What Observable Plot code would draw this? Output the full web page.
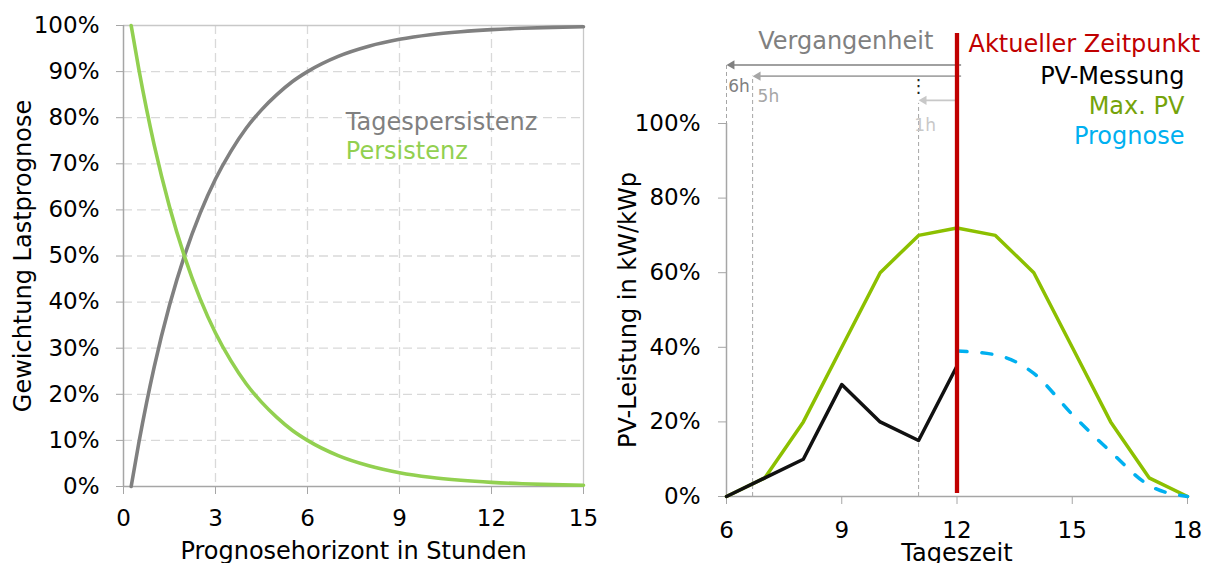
<!DOCTYPE html>
<html><head><meta charset="utf-8">
<script src="https://cdn.jsdelivr.net/npm/d3@7"></script>
<script src="https://cdn.jsdelivr.net/npm/@observablehq/plot@0.6"></script>
<style>
html,body{margin:0;padding:0;background:#fff;}
#wrap{position:relative;width:1210px;height:563px;overflow:hidden;font-family:"DejaVu Sans";}
#left,#right{position:absolute;top:0;}
#left{left:0;} #right{left:605px;}
</style></head><body>
<div id="wrap"><div id="left"></div><div id="right"></div></div>
<script>
// ---------- Left panel data ----------
const horizon = [0.25,0.5,0.75,1,1.5,2,2.5,3,3.5,4,4.5,5,5.5,6,7,8,9,10,11,12,13,14,15];
const persistenz = [1.000,0.905,0.819,0.741,0.607,0.497,0.407,0.333,0.273,0.223,0.183,0.150,0.122,0.100,0.067,0.045,0.030,0.020,0.0135,0.009,0.006,0.004,0.0027];
const tagespersistenz = [0,0.095,0.181,0.259,0.393,0.503,0.593,0.667,0.727,0.777,0.817,0.850,0.878,0.900,0.933,0.955,0.970,0.980,0.9865,0.991,0.994,0.996,0.9973];
const leftXTicks = [0,3,6,9,12,15];
const leftYTicks = [0,0.1,0.2,0.3,0.4,0.5,0.6,0.7,0.8,0.9,1];
const leftGridX = [3,6,9,12];
const leftGridY = [0.1,0.2,0.3,0.4,0.5,0.6,0.7,0.8,0.9];

// ---------- Right panel data ----------
const hours = [6,7,8,9,10,11,12,13,14,15,16,17,18];
const maxPV = [0,0.05,0.20,0.40,0.60,0.70,0.72,0.70,0.60,0.40,0.20,0.05,0];
const messHours = [6,7,8,9,10,11,12];
const messung = [0,0.05,0.10,0.30,0.20,0.15,0.35];
const progHours = [12,13,14,15,16,17,18];
const prognose = [0.39,0.38,0.33,0.22,0.12,0.03,0];
const rightXTicks = [6,9,12,15,18];
const rightYTicks = [0,0.2,0.4,0.6,0.8,1];

const FONT = "DejaVu Sans";
const FS = 24;
const pct = d => Math.round(d*100) + "%";
const AX = "#a6a6a6";

const leftRows = (ys) => horizon.map((h,i) => ({h, v: ys[i]}));

const left = Plot.plot({
  width: 605, height: 563,
  marginLeft: 123, marginRight: 22, marginTop: 25, marginBottom: 77,
  style: {fontFamily: FONT, background: "white", overflow: "visible"},
  x: {domain: [0, 15]},
  y: {domain: [0, 1]},
  marks: [
    Plot.gridX(leftGridX, {stroke: "#d9d9d9", strokeOpacity: 1, strokeWidth: 1.3, strokeDasharray: "9,5"}),
    Plot.gridY(leftGridY, {stroke: "#d9d9d9", strokeOpacity: 1, strokeWidth: 1.3, strokeDasharray: "9,5"}),
    Plot.ruleY([1], {stroke: "#c8c8c8", strokeWidth: 1.3}),
    Plot.ruleX([15], {stroke: "#c8c8c8", strokeWidth: 1.3}),
    Plot.ruleX([0], {stroke: AX, strokeWidth: 1.5}),
    Plot.ruleY([0], {stroke: AX, strokeWidth: 1.5}),
    Plot.axisY(leftYTicks, {tickFormat: pct, tickSize: 7, tickPadding: 17, fontSize: 23, stroke: AX, label: null}),
    Plot.axisX(leftXTicks, {tickSize: 8, tickPadding: 15, fontSize: 23, stroke: AX, label: null}),
    Plot.line(leftRows(tagespersistenz), {x: "h", y: "v", stroke: "#808080", strokeWidth: 3.6, curve: "monotone-x"}),
    Plot.line(leftRows(persistenz), {x: "h", y: "v", stroke: "#92d050", strokeWidth: 3.6, curve: "monotone-x"}),
    Plot.text(["Tagespersistenz"], {x: 7.25, y: 0.773, text: d => d, textAnchor: "start", lineAnchor: "bottom", fill: "#808080", fontSize: FS}),
    Plot.text(["Persistenz"], {x: 7.25, y: 0.710, text: d => d, textAnchor: "start", lineAnchor: "bottom", fill: "#92d050", fontSize: FS}),
    Plot.text(["Gewichtung Lastprognose"], {frameAnchor: "left", text: d => d, rotate: -90, dx: -100, textAnchor: "middle", lineAnchor: "middle", fontSize: FS, fill: "black"}),
    Plot.text(["Prognosehorizont in Stunden"], {frameAnchor: "bottom", text: d => d, dy: 72, textAnchor: "middle", lineAnchor: "bottom", fontSize: FS, fill: "black"})
  ]
});
document.getElementById("left").appendChild(left);

const rows = (xs, ys) => xs.map((x,i) => ({x, v: ys[i]}));

const right = Plot.plot({
  width: 605, height: 563,
  marginLeft: 121, marginRight: 23, marginTop: 123, marginBottom: 67,
  style: {fontFamily: FONT, background: "white", overflow: "visible"},
  x: {domain: [6, 18]},
  y: {domain: [0, 1]},
  marks: [
    // history markers
    Plot.ruleX([6], {y1: 0, y2: 1.157, stroke: AX, strokeWidth: 1, strokeDasharray: "4,3"}),
    Plot.ruleX([6.68], {y1: 0, y2: 1.127, stroke: AX, strokeWidth: 1, strokeDasharray: "4,3"}),
    Plot.ruleX([11], {y1: 0, y2: 1.054, stroke: AX, strokeWidth: 1, strokeDasharray: "4,3"}),
    Plot.ruleX([6], {y1: 0, y2: 1, stroke: AX, strokeWidth: 1.5}),
    Plot.ruleY([0], {stroke: AX, strokeWidth: 1.5}),
    Plot.axisY(rightYTicks, {tickFormat: pct, tickSize: 8, tickPadding: 18, fontSize: 23, stroke: AX, label: null}),
    Plot.axisX(rightXTicks, {tickSize: 8, tickPadding: 17, fontSize: 23, stroke: AX, label: null}),
    // arrows
    Plot.ruleY([1.157], {x1: 6.15, x2: 12.12, stroke: "#808080", strokeWidth: 1.6}),
    Plot.dot([0], {x: 6, y: 1.157, symbol: "triangle", r: 3.4, rotate: -90, fill: "#808080", stroke: "none", dx: 5.3}),
    Plot.ruleY([1.127], {x1: 6.83, x2: 12.12, stroke: AX, strokeWidth: 1.6}),
    Plot.dot([0], {x: 6.68, y: 1.127, symbol: "triangle", r: 3.4, rotate: -90, fill: AX, stroke: "none", dx: 5.3}),
    Plot.ruleY([1.062], {x1: 11.15, x2: 12, stroke: "#c8c8c8", strokeWidth: 1.6}),
    Plot.dot([0], {x: 11, y: 1.062, symbol: "triangle", r: 3.4, rotate: -90, fill: "#c8c8c8", stroke: "none", dx: 5.3}),
    Plot.text(["⋮"], {x: 11, y: 1.099, text: d => d, fontSize: 18, fill: "#222", lineAnchor: "middle"}),
    Plot.text(["6h"], {x: 6.045, y: 1.084, text: d => d, textAnchor: "start", lineAnchor: "bottom", fontSize: 17, fill: "#808080"}),
    Plot.text(["5h"], {x: 6.81, y: 1.057, text: d => d, textAnchor: "start", lineAnchor: "bottom", fontSize: 17, fill: AX}),
    Plot.text(["1h"], {x: 11.17, y: 0.981, text: d => d, textAnchor: "middle", lineAnchor: "bottom", fontSize: 17, fill: "#c8c8c8"}),
    // series
    Plot.line(rows(hours, maxPV), {x: "x", y: "v", stroke: "#8cc000", strokeWidth: 3.5}),
    Plot.line(rows(messHours, messung), {x: "x", y: "v", stroke: "#111", strokeWidth: 3.5}),
    Plot.line(rows(progHours, prognose), {x: "x", y: "v", stroke: "#00b0f0", strokeWidth: 3.5, strokeDasharray: "10,15", strokeLinecap: "round", curve: "monotone-x"}),
    Plot.ruleX([12], {y1: 0.008, y2: 1.241, stroke: "#c00000", strokeWidth: 4.3}),
    // legend text
    Plot.text(["Vergangenheit"], {x: 6.825, y: 1.2, text: d => d, textAnchor: "start", lineAnchor: "bottom", fontSize: FS, fill: "#808080"}),
    Plot.text(["Aktueller Zeitpunkt"], {x: 12.3, y: 1.193, text: d => d, textAnchor: "start", lineAnchor: "bottom", fontSize: FS, fill: "#c00000"}),
    Plot.text(["PV-Messung"], {x: 17.92, y: 1.106, text: d => d, textAnchor: "end", lineAnchor: "bottom", fontSize: FS, fill: "black"}),
    Plot.text(["Max. PV"], {x: 17.92, y: 1.0255, text: d => d, textAnchor: "end", lineAnchor: "bottom", fontSize: FS, fill: "#75a30a"}),
    Plot.text(["Prognose"], {x: 17.92, y: 0.945, text: d => d, textAnchor: "end", lineAnchor: "bottom", fontSize: FS, fill: "#00b0f0"}),
    Plot.text(["PV-Leistung in kW/kWp"], {frameAnchor: "left", text: d => d, rotate: -90, dx: -98, textAnchor: "middle", lineAnchor: "middle", fontSize: FS, fill: "black"}),
    Plot.text(["Tageszeit"], {frameAnchor: "bottom", text: d => d, dy: 64, textAnchor: "middle", lineAnchor: "bottom", fontSize: FS, fill: "black"})
  ]
});
document.getElementById("right").appendChild(right);
</script></body></html>
